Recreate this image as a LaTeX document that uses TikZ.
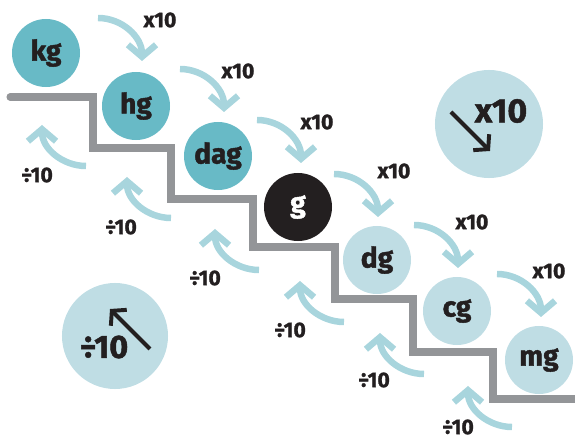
\documentclass[tikz,border=0pt]{standalone}
\usepackage{fontspec}
\setmainfont{Fira Sans}[BoldFeatures={FakeBold=1.5}]
\usetikzlibrary{arrows.meta,calc}
\definecolor{dark}{HTML}{68BAC6}
\definecolor{pale}{HTML}{BFDDE4}
\definecolor{ink}{HTML}{231F20}
\definecolor{sky}{HTML}{A8D5DD}
\definecolor{stairc}{HTML}{939598}
\tikzset{
  unit/.style={circle,fill=#1,minimum size=1.7cm,inner sep=0pt,font=\bfseries\fontsize{20}{20}\selectfont,text=ink},
  unit/.default=pale,
  hop/.style={-{Straight Barb[length=8.5pt,width=20pt]},line width=4.6pt,draw=sky},
  lbl/.style={font=\bfseries\fontsize{15}{15}\selectfont,text=ink,inner sep=0pt},
  stair/.style={draw=stairc,line width=5pt,line cap=round,line join=miter},
  badge/.style={circle,fill=pale,minimum size=#1,inner sep=0pt},
  cue/.style={-{Straight Barb[length=7pt,width=16pt]},line width=2.8pt,draw=ink},
  big/.style={font=\bfseries\fontsize{#1}{#1}\selectfont,text=ink,inner sep=0pt},
}
\begin{document}
\begin{tikzpicture}[x=0.025cm,y=-0.025cm]
  \useasboundingbox (0,0) rectangle (575,440);
  % staircase
  \draw[stair] (10,97) -| (93,148) -| (171,199) -| (253,247) -| (335,299) -| (413,352) -| (493,399) -- (575,399);

  % units
  \node[unit=dark] (kg) at (46,53) {kg};
  \node[unit=dark] (hg) at (136,106) {hg};
  \node[unit=dark] (dag) at (218,156) {dag};
  \node[unit=ink,text=white] (g) at (298,207) {g};
  \node[unit] (dg) at (377,260) {dg};
  \node[unit] (cg) at (457,311) {cg};
  \node[unit] (mg) at (539,360) {mg};

  % multiply going down
  \foreach \tx/\ty/\lx/\ly [count=\i] in {142/61/160/20,224/112/238/71,301/163/317/122,378/217/394/171,458/268/472/222,541/317/549/271}{
    \coordinate (mt\i) at (\tx,\ty);
    \coordinate (ms\i) at ($(mt\i)+(-44,-43)$);
    \draw[hop] (ms\i) to[out=0,in=90] (mt\i);
    \node[lbl] (ml\i) at (\lx,\ly) {x10};
  }

  % divide going up
  \foreach \tx/\ty/\lx/\ly [count=\i] in {42/125/37/175,127/177/121/227,215/229/205/278,300/281/290/330,380/333/374/380,468/386/458/427}{
    \coordinate (dt\i) at (\tx,\ty);
    \coordinate (ds\i) at ($(dt\i)+(44,41)$);
    \draw[hop] (ds\i) to[out=180,in=-90] (dt\i);
    \node[lbl] (dl\i) at (\lx,\ly) {÷10};
  }

  % badges
  \node[badge=2.7cm] (down) at (489,124) {};
  \node[big=24] (downt) at ($(down)+(12,-13)$) {x10};
  \coordinate (downa) at ($(down)+(-38,-12)$);
  \coordinate (downb) at ($(down)+(1,27)$);
  \draw[cue] (downa) -- (downb);

  \node[badge=2.65cm] (up) at (115,336) {};
  \node[big=23] (upt) at ($(up)+(-11,11)$) {÷10};
  \coordinate (upa) at ($(up)+(35,13)$);
  \coordinate (upb) at ($(up)+(-5,-27)$);
  \draw[cue] (upa) -- (upb);
\end{tikzpicture}
\end{document}
